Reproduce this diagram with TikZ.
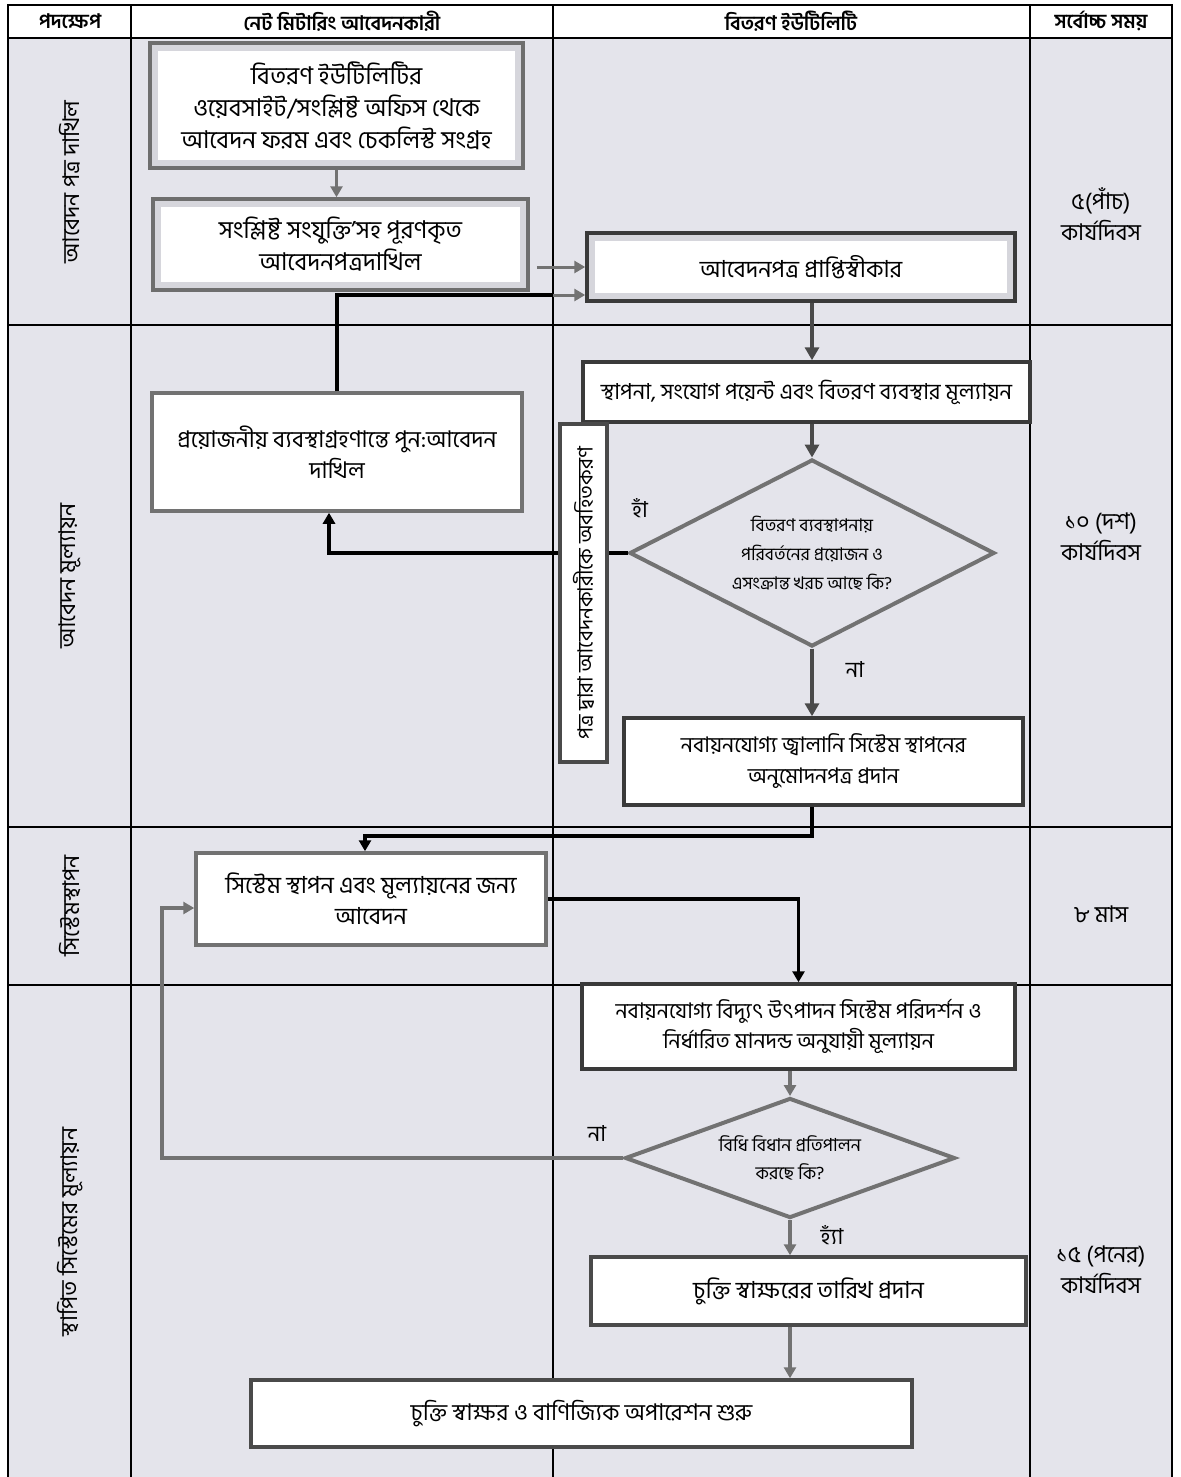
\documentclass[tikz,border=0pt]{standalone}
\usepackage{fontspec}
\newfontfamily\bn[Script=Bengali]{Hind Siliguri}
\usetikzlibrary{arrows.meta,shapes.geometric}
\definecolor{bg}{HTML}{E4E4EB}
\definecolor{band}{HTML}{D6D6DC}
\definecolor{bord}{HTML}{6E6E6E}
\definecolor{dbord}{HTML}{3A3A3A}
\definecolor{garr}{HTML}{727272}
\definecolor{darr}{HTML}{4A4A4A}
\newcommand{\fs}[2]{\bn\fontsize{#1}{#2}\selectfont}
\begin{document}
\begin{tikzpicture}[x=1pt,y=-1pt,
  every node/.style={font=\bn},
  box/.style={draw=bord, line width=3.5pt, fill=white, align=center, inner sep=0pt,
     font=\fs{24}{32}},
  dbox/.style={box, draw=dbord},
  bandbox/.style={box, fill=band, path picture={\fill[white]
     ([shift={(8pt,-8pt)}]path picture bounding box.north west) rectangle
     ([shift={(-8pt,8pt)}]path picture bounding box.south east);}},
  decision/.style={diamond, draw=garr, line width=4pt, inner sep=0pt},
  dtext/.style={align=center, inner sep=0pt, font=\fs{17.5}{29}},
  hdr/.style={font=\bn\bfseries\fontsize{20}{22}\selectfont},
  rowlbl/.style={rotate=90, font=\fs{23}{26}},
  timelbl/.style={align=center, font=\fs{23}{31}},
  lbl/.style={font=\fs{22}{24}},
  blkarr/.style={line width=3.5pt, black, -{Triangle[length=11pt,width=12pt]}},
  blkline/.style={line width=3.5pt, black},
  grayarr/.style={line width=3.5pt, garr, -{Triangle[length=11pt,width=12pt]}},
  darkarr/.style={line width=4pt, darr, -{Triangle[length=13pt,width=14pt]}},
  grid/.style={line width=1.2pt, black}
]
\useasboundingbox (0,0) rectangle (1180,1477);
\fill[white] (0,0) rectangle (1180,1477);
% table background
\fill[bg] (8,38) rectangle (1172,1477);
% grid
\draw[grid] (8,1477) -- (8,5) -- (1172,5) -- (1172,1477);
\foreach \x in {131,553,1030} \draw[grid] (\x,5) -- (\x,1477);
\foreach \y in {38,325,827,985} \draw[grid] (8,\y) -- (1172,\y);

% header
\node[hdr] (h1) at (70,21) {পদক্ষেপ};
\node[hdr] (h2) at (342,21) {নেট মিটারিং আবেদনকারী};
\node[hdr] (h3) at (791,21) {বিতরণ ইউটিলিটি};
\node[hdr] (h4) at (1101,21) {সর্বোচ্চ সময়};

% row labels
\node[rowlbl] (r1) at (70,182) {আবেদন পত্র দাখিল};
\node[rowlbl] (r2) at (70,576) {আবেদন মূল্যায়ন};
\node[rowlbl] (r3) at (70,906) {সিস্টেমস্থাপন};
\node[rowlbl] (r4) at (70,1232) {স্থাপিত সিস্টেমের মূল্যায়ন};

% time labels
\node[timelbl] (t1) at (1101,214) {৫(পাঁচ)\\কার্যদিবস};
\node[timelbl] (t2) at (1101,537) {১০ (দশ)\\কার্যদিবস};
\node[timelbl] (t3) at (1101,914) {৮ মাস};
\node[timelbl] (t4) at (1101,1270) {১৫ (পনের)\\কার্যদিবস};

\coordinate (c1) at (553,295);
\coordinate (c2) at (162,908);

% boxes
\node[bandbox, minimum width=373, minimum height=125, font=\fs{24.5}{32}] (b1) at (336.5,105.5)
  {বিতরণ ইউটিলিটির\\ওয়েবসাইট/সংশ্লিষ্ট অফিস থেকে\\আবেদন ফরম এবং চেকলিস্ট সংগ্রহ};
\node[bandbox, minimum width=375, minimum height=91, font=\fs{24.5}{32}] (b2) at (340.5,244.5)
  {সংশ্লিষ্ট সংযুক্তি’সহ পূরণকৃত\\আবেদনপত্রদাখিল};
\node[bandbox, draw=dbord, minimum width=428, minimum height=68, font=\fs{23.5}{32}] (b3) at (801,267)
  {আবেদনপত্র প্রাপ্তিস্বীকার};
\node[dbox, minimum width=447, minimum height=60, font=\fs{22}{30}] (b4) at (806.5,392)
  {স্থাপনা, সংযোগ পয়েন্ট এবং বিতরণ ব্যবস্থার মূল্যায়ন};
\node[box, draw=garr, minimum width=370, minimum height=118, font=\fs{23}{31}] (b5) at (337,452)
  {প্রয়োজনীয় ব্যবস্থাগ্রহণান্তে পুন:আবেদন\\দাখিল};
\node[decision, minimum width=365, minimum height=187] (d1) at (812,553) {};
\node[dtext] (d1t) at (d1.center)
  {বিতরণ ব্যবস্থাপনায়\\পরিবর্তনের প্রয়োজন ও\\এসংক্রান্ত খরচ আছে কি?};

% yes-branch line passes behind the vertical box
\draw[blkarr] (d1.west) -| ([xshift=-8pt]b5.south);

\node[box, draw=darr, rotate=90, minimum width=338, minimum height=47,
  font=\fs{21}{24}] (vb) at (583.5,593)
  {পত্র দ্বারা আবেদনকারীকে অবহিতকরণ};

\node[dbox, minimum width=399, minimum height=87, font=\fs{21.5}{31}] (b6) at (823.5,761.5)
  {নবায়নযোগ্য জ্বালানি সিস্টেম স্থাপনের\\অনুমোদনপত্র প্রদান};
\node[box, draw=garr, minimum width=350, minimum height=92, font=\fs{23.5}{31}] (b7) at (371,899)
  {সিস্টেম স্থাপন এবং মূল্যায়নের জন্য\\আবেদন};
\node[dbox, minimum width=433, minimum height=85, font=\fs{21.5}{30}] (b8) at (798.5,1026.5)
  {নবায়নযোগ্য বিদ্যুৎ উৎপাদন সিস্টেম পরিদর্শন ও\\নির্ধারিত মানদন্ড অনুযায়ী মূল্যায়ন};
\node[decision, minimum width=330, minimum height=120] (d2) at (790,1158) {};
\node[dtext, font=\fs{18}{28}] (d2t) at (d2.center)
  {বিধি বিধান প্রতিপালন\\করছে কি?};
\node[dbox, draw=darr, minimum width=435, minimum height=68, font=\fs{23.5}{31}] (b9) at (808.5,1291)
  {চুক্তি স্বাক্ষরের তারিখ প্রদান};
\node[dbox, draw=darr, minimum width=661, minimum height=67, font=\fs{23}{31}] (b10) at (581.5,1413.5)
  {চুক্তি স্বাক্ষর ও বাণিজ্যিক অপারেশন শুরু};

% branch labels
\node[lbl] (ly1) at (640,508) {হাঁ};
\node[lbl] (ln1) at (855,670) {না};
\node[lbl] (ln2) at (597,1133) {না};
\node[lbl] (ly2) at (832,1235) {হ্যাঁ};

% connectors
\draw[grayarr] (b1.south) -- (b1.south |- b2.north);
\draw[grayarr, line width=3pt] ([xshift=7pt]b2.east |- b3.west) -- (b3.west);
\draw[blkline] (b5.north) |- (c1);
\draw[grayarr, line width=3pt] (c1) -- (c1 -| b3.west);
\draw[darkarr] (b3.south -| d1.north) -- (b4.north -| d1.north);
\draw[darkarr] (b4.south -| d1.north) -- (d1.north);
\draw[darkarr] (d1.south) -- (b6.north -| d1.south);
\draw[blkarr] (b6.south -| d1.south) -- ++(0,29) -| ([xshift=-6pt]b7.north);
\draw[blkarr] (b7.east) -| (b8.north);
\draw[grayarr] (b8.south -| d2.north) -- (d2.north);
\draw[grayarr] (d2.west) -| (c2) -- (c2 -| b7.west);
\draw[grayarr] (d2.south) -- (b9.north -| d2.south);
\draw[grayarr] (b9.south -| d2.south) -- (b10.north -| d2.south);
\end{tikzpicture}
\end{document}
